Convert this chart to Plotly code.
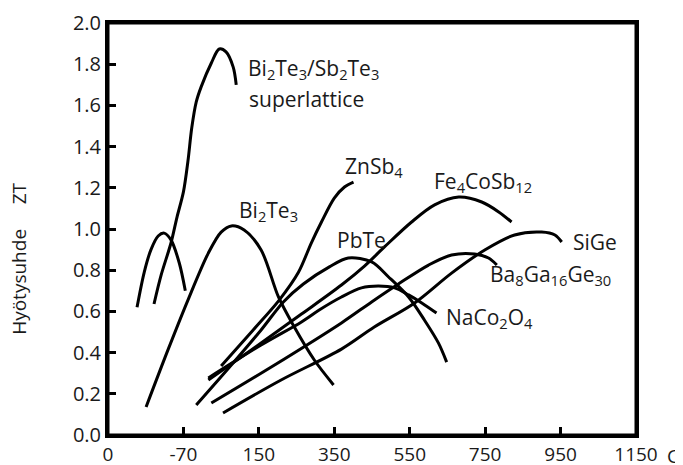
import plotly.graph_objects as go

# x values are on the chart's evenly spaced temperature scale (ticks every 200 units),
# y values are ZT
x_ticks = [0, 200, 400, 600, 800, 1000, 1200, 1400]
x_tick_labels = ["0", "-70", "150", "350", "550", "750", "950", "1150"]
y_ticks = [0.0, 0.2, 0.4, 0.6, 0.8, 1.0, 1.2, 1.4, 1.6, 1.8, 2.0]

lowtemp_x = [77, 96, 114, 133, 149, 167, 189, 205]
lowtemp_y = [0.62, 0.79, 0.90, 0.966, 0.98, 0.947, 0.835, 0.70]

superlattice_x = [122, 141, 167, 183, 200, 212, 222, 234, 247, 274, 295, 313, 332, 340]
superlattice_y = [0.636, 0.777, 0.932, 1.058, 1.18, 1.33, 1.49, 1.617, 1.69, 1.806, 1.874, 1.86, 1.786, 1.70]

bi2te3_x = [101, 159, 212, 266, 300, 327, 361, 406, 452, 494, 547, 598]
bi2te3_y = [0.136, 0.413, 0.655, 0.883, 0.985, 1.015, 0.995, 0.898, 0.67, 0.524, 0.364, 0.243]

znsb4_x = [300, 385, 454, 505, 539, 566, 600, 627, 651]
znsb4_y = [0.335, 0.51, 0.655, 0.79, 0.932, 1.034, 1.15, 1.204, 1.228]

pbte_x = [234, 327, 406, 465, 518, 587, 637, 699, 744, 797, 839, 876, 898]
pbte_y = [0.146, 0.34, 0.51, 0.646, 0.733, 0.816, 0.859, 0.84, 0.767, 0.67, 0.558, 0.447, 0.354]

fe4cosb12_x = [266, 380, 513, 619, 680, 733, 805, 866, 930, 991, 1036, 1070]
fe4cosb12_y = [0.267, 0.413, 0.587, 0.728, 0.82, 0.913, 1.034, 1.117, 1.155, 1.131, 1.083, 1.034]

naco2o4_x = [266, 406, 513, 560, 619, 672, 717, 760, 797, 832, 871]
naco2o4_y = [0.277, 0.437, 0.549, 0.607, 0.67, 0.714, 0.723, 0.714, 0.68, 0.641, 0.592]

ba8ga16ge30_x = [274, 433, 619, 699, 770, 850, 911, 972, 1009, 1031]
ba8ga16ge30_y = [0.155, 0.33, 0.544, 0.646, 0.733, 0.825, 0.874, 0.879, 0.859, 0.825]

sige_x = [305, 459, 619, 706, 813, 911, 999, 1078, 1150, 1185, 1203]
sige_y = [0.107, 0.267, 0.417, 0.524, 0.641, 0.786, 0.898, 0.971, 0.985, 0.971, 0.937]

labels = [
    "Bi<sub>2</sub>Te<sub>3</sub>/Sb<sub>2</sub>Te<sub>3</sub>",
    "superlattice",
    "Bi<sub>2</sub>Te<sub>3</sub>",
    "ZnSb<sub>4</sub>",
    "Fe<sub>4</sub>CoSb<sub>12</sub>",
    "PbTe",
    "SiGe",
    "Ba<sub>8</sub>Ga<sub>16</sub>Ge<sub>30</sub>",
    "NaCo<sub>2</sub>O<sub>4</sub>",
]
label_x = [366, 369, 341, 622, 860, 601, 1228, 1007, 890]
label_y = [1.775, 1.63, 1.085, 1.30, 1.23, 0.947, 0.937, 0.775, 0.567]

y_title = "Hyötysuhde     ZT"
x_unit = "C"

series = [
    (lowtemp_x, lowtemp_y),
    (superlattice_x, superlattice_y),
    (bi2te3_x, bi2te3_y),
    (znsb4_x, znsb4_y),
    (pbte_x, pbte_y),
    (fe4cosb12_x, fe4cosb12_y),
    (naco2o4_x, naco2o4_y),
    (ba8ga16ge30_x, ba8ga16ge30_y),
    (sige_x, sige_y),
]

FONT = "Open Sans"
TXT = "#1a1a1a"
fig = go.Figure()
for xs, ys in series:
    fig.add_trace(go.Scatter(
        x=xs, y=ys, mode="lines",
        line=dict(color="black", width=3, shape="spline", smoothing=0.9),
        hoverinfo="skip", showlegend=False,
    ))

for t, lx, ly in zip(labels, label_x, label_y):
    fig.add_annotation(x=lx, y=ly, xref="x", yref="y", text=t, showarrow=False,
                       xanchor="left", yanchor="middle",
                       font=dict(family=FONT, size=21, color=TXT))

fig.add_annotation(x=1.07, y=-0.05, xref="paper", yref="paper", text=x_unit,
                   showarrow=False, xanchor="center", yanchor="middle",
                   font=dict(family=FONT, size=19, color=TXT))

fig.add_annotation(x=-0.169, y=0.427, xref="paper", yref="paper", text=y_title,
                   showarrow=False, xanchor="center", yanchor="middle", textangle=-90,
                   font=dict(family=FONT, size=19, color=TXT))

# plot frame
fig.add_shape(type="rect", xref="paper", yref="paper", x0=0, y0=0, x1=1, y1=1,
              line=dict(color="black", width=3), layer="above")

# the page body adds an 8px offset, so the figure is 8px smaller than the window
fig.update_layout(
    width=675, height=457,
    margin=dict(l=100, r=47, t=15, b=30),
    plot_bgcolor="white", paper_bgcolor="white",
    font=dict(family=FONT, size=19, color=TXT),
    showlegend=False,
)
fig.update_xaxes(
    range=[0, 1400], tickvals=x_ticks, ticktext=x_tick_labels,
    showgrid=False, zeroline=False, automargin=False,
    showline=True, linewidth=3, linecolor="black", mirror=True,
    ticks="inside", ticklen=8, tickwidth=3, tickcolor="black",
    tickfont=dict(family=FONT, size=19, color=TXT),
)
fig.update_yaxes(
    range=[0, 2.0], tickvals=y_ticks, tickformat=".1f",
    showgrid=False, zeroline=False, automargin=False,
    showline=True, linewidth=3, linecolor="black", mirror=True,
    ticks="inside", ticklen=8, tickwidth=3, tickcolor="black",
    tickfont=dict(family=FONT, size=20, color=TXT),
)

fig.write_html("out.html")
